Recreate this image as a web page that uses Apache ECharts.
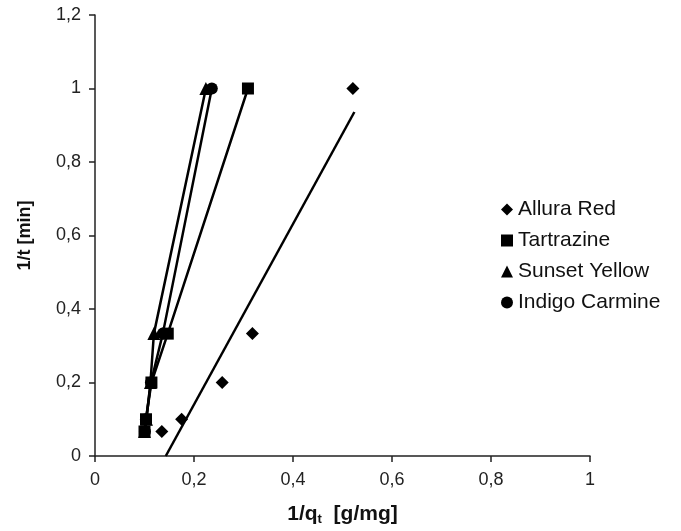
<!DOCTYPE html>
<html>
<head>
<meta charset="utf-8">
<script src="https://cdn.jsdelivr.net/npm/echarts@6/dist/echarts.min.js"></script>
<style>
  html, body { margin: 0; padding: 0; background: #fff; }
  #chart { width: 681px; height: 531px; }
</style>
</head>
<body>
<div id="chart"></div>
<script>
// 1/t values (t = 15, 10, 5, 3, 1 min)
var yVals = [0.0667, 0.1, 0.2, 0.333, 1];

// 1/qt values
var alluraX     = [0.135, 0.175, 0.257, 0.318, 0.521];
var tartrazineX = [0.100, 0.103, 0.114, 0.147, 0.309];
var sunsetX     = [0.100, 0.104, 0.112, 0.119, 0.224];
var indigoX     = [0.101, 0.103, 0.113, 0.137, 0.236];

// Allura Red linear trendline, ends
var alluraTrendX = [0.143, 0.524];
var alluraTrendY = [0, 0.936];

var seriesNames = ['Allura Red', 'Tartrazine', 'Sunset Yellow', 'Indigo Carmine'];

function pairs(xs, ys) {
  var out = [];
  for (var i = 0; i < xs.length; i++) out.push([xs[i], ys[i]]);
  return out;
}

var fontFam = '"Liberation Sans", Arial, sans-serif';
var commaFmt = function (v) { return String(+v.toFixed(1)).replace('.', ','); };

var myChart = echarts.init(document.getElementById('chart'));

var option = {
  animation: false,
  backgroundColor: '#fff',
  grid: { left: 95, right: 91, top: 15, bottom: 74, containLabel: false },
  legend: {
    orient: 'vertical',
    left: 496,
    top: 194,
    itemWidth: 12,
    itemHeight: 12,
    itemGap: 10,
    textStyle: { color: '#111', fontSize: 21, fontFamily: fontFam },
    data: [
      { name: 'Allura Red', icon: 'diamond' },
      { name: 'Tartrazine', icon: 'rect' },
      { name: 'Sunset Yellow', icon: 'triangle' },
      { name: 'Indigo Carmine', icon: 'circle' }
    ]
  },
  xAxis: {
    type: 'value',
    min: 0, max: 1, interval: 0.2,
    name: '{a|1/q}{s|t}{a|  [g/mg]}',
    nameLocation: 'middle',
    nameGap: 47,
    nameTextStyle: {
      rich: {
        a: { fontSize: 21, fontWeight: 'bold', color: '#111', fontFamily: fontFam },
        s: { fontSize: 13, fontWeight: 'bold', color: '#111', fontFamily: fontFam, padding: [10, 0, 0, 0] }
      }
    },
    axisLine: { lineStyle: { color: '#222', width: 1.5 } },
    axisTick: { show: true, length: 6, lineStyle: { color: '#222', width: 1.5 } },
    axisLabel: { formatter: commaFmt, fontSize: 18, color: '#222', margin: 15, fontFamily: fontFam },
    splitLine: { show: false }
  },
  yAxis: {
    type: 'value',
    min: 0, max: 1.2, interval: 0.2,
    name: '1/t [min]',
    nameLocation: 'middle',
    nameGap: 61,
    nameTextStyle: { fontSize: 18, fontWeight: 'bold', color: '#111', fontFamily: fontFam },
    axisLine: { show: true, lineStyle: { color: '#222', width: 1.5 } },
    axisTick: { show: true, length: 6, lineStyle: { color: '#222', width: 1.5 } },
    axisLabel: { formatter: commaFmt, fontSize: 18, color: '#222', margin: 14, fontFamily: fontFam },
    splitLine: { show: false }
  },
  series: [
    {
      name: seriesNames[0],
      type: 'scatter',
      symbol: 'diamond',
      symbolSize: 13,
      itemStyle: { color: '#000', opacity: 1 },
      data: pairs(alluraX, yVals),
      z: 3
    },
    {
      name: 'Allura Red trend',
      type: 'line',
      showSymbol: false,
      symbol: 'none',
      lineStyle: { color: '#000', width: 2.5 },
      data: pairs(alluraTrendX, alluraTrendY),
      z: 2
    },
    {
      name: seriesNames[1],
      type: 'line',
      symbol: 'rect',
      symbolSize: 12,
      itemStyle: { color: '#000' },
      lineStyle: { color: '#000', width: 2.5 },
      data: pairs(tartrazineX, yVals)
    },
    {
      name: seriesNames[2],
      type: 'line',
      symbol: 'triangle',
      symbolSize: 13,
      itemStyle: { color: '#000' },
      lineStyle: { color: '#000', width: 2.5 },
      data: pairs(sunsetX, yVals)
    },
    {
      name: seriesNames[3],
      type: 'line',
      symbol: 'circle',
      symbolSize: 12,
      itemStyle: { color: '#000' },
      lineStyle: { color: '#000', width: 2.5 },
      data: pairs(indigoX, yVals)
    }
  ]
};

myChart.setOption(option);
</script>
</body>
</html>
